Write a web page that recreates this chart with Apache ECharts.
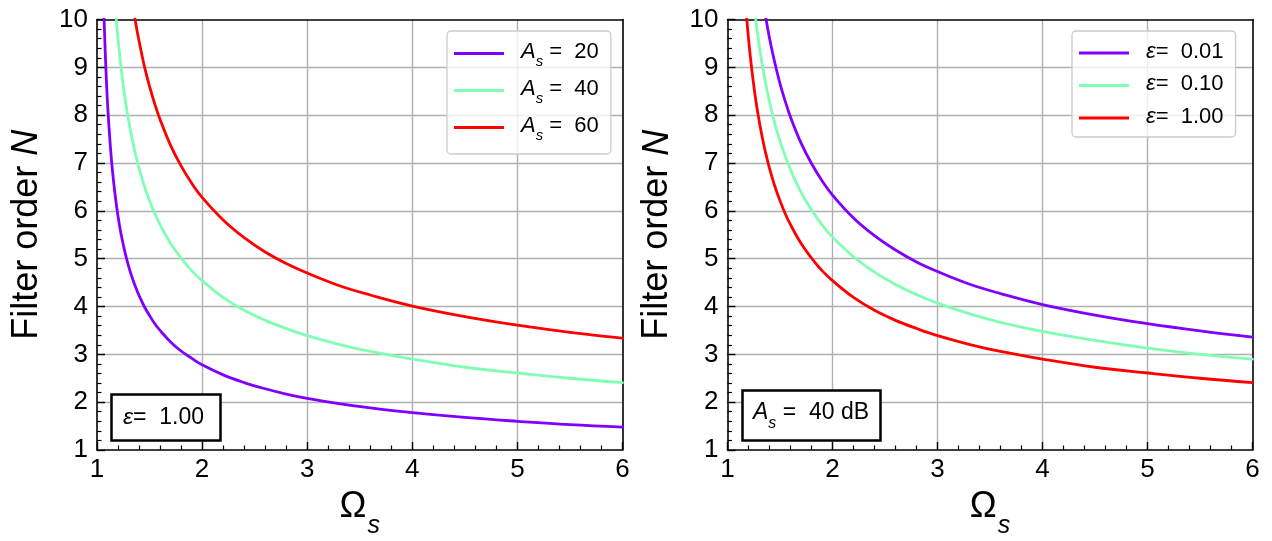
<!DOCTYPE html>
<html><head><meta charset="utf-8">
<script src="https://cdn.jsdelivr.net/npm/echarts@6/dist/echarts.min.js"></script>
<style>html,body{margin:0;padding:0;background:#fff}#c{width:1272px;height:541px}</style>
</head><body><div id="c"></div>
<script>
// ---- data ----
const omega = [1.05,1.06,1.07,1.08,1.09,1.10,1.12,1.14,1.16,1.18,1.20,1.22,1.25,1.28,1.31,1.34,1.37,1.40,1.45,1.50,1.55,1.60,1.70,1.80,1.90,2.0,2.2,2.4,2.6,2.8,3.0,3.3,3.6,4.0,4.5,5.0,5.5,6.0];
const nAs20 = [11.64,10.64,9.85,9.23,8.70,8.26,7.56,7.01,6.57,6.20,5.89,5.62,5.29,5.01,4.77,4.57,4.39,4.23,4.00,3.81,3.64,3.50,3.26,3.07,2.92,2.78,2.57,2.41,2.28,2.17,2.08,1.97,1.88,1.78,1.68,1.60,1.53,1.48];
const nAs40 = [18.97,17.33,16.06,15.03,14.19,13.47,12.31,11.42,10.70,10.10,9.60,9.17,8.62,8.16,7.78,7.44,7.15,6.89,6.52,6.21,5.94,5.71,5.32,5.01,4.75,4.54,4.19,3.92,3.71,3.54,3.39,3.21,3.06,2.90,2.73,2.61,2.50,2.41];
const nAs60 = [26.28,24.01,22.25,20.83,19.65,18.66,17.06,15.82,14.82,14.00,13.30,12.70,11.94,11.31,10.77,10.31,9.90,9.55,9.03,8.60,8.23,7.91,7.37,6.94,6.58,6.28,5.81,5.44,5.14,4.90,4.70,4.44,4.24,4.01,3.79,3.61,3.46,3.34];
const nEps001 = [26.46,24.18,22.40,20.97,19.79,18.79,17.18,15.93,14.93,14.09,13.39,12.79,12.02,11.39,10.85,10.38,9.97,9.61,9.10,8.66,8.29,7.96,7.42,6.99,6.63,6.33,5.85,5.48,5.18,4.93,4.73,4.47,4.27,4.04,3.82,3.64,3.49,3.36];
const nEps010 = [22.79,20.82,19.30,18.06,17.04,16.18,14.80,13.72,12.85,12.14,11.53,11.01,10.36,9.81,9.34,8.94,8.59,8.28,7.83,7.46,7.14,6.86,6.39,6.02,5.71,5.45,5.04,4.72,4.46,4.25,4.07,3.85,3.67,3.48,3.29,3.13,3.00,2.90];
const nEps100 = [18.97,17.33,16.06,15.03,14.19,13.47,12.31,11.42,10.70,10.10,9.60,9.17,8.62,8.16,7.78,7.44,7.15,6.89,6.52,6.21,5.94,5.71,5.32,5.01,4.75,4.54,4.19,3.92,3.71,3.54,3.39,3.21,3.06,2.90,2.73,2.61,2.50,2.41];
const asLabels = ['20','40','60'];
const epsLabels = ['0.01','0.10','1.00'];
const xRange = [1, 6];
const yRange = [1, 10];
const leftNote = '1.00';
const rightNote = '40 dB';
const colors = ['#8000ff', '#80ffb4', '#ff0000'];

const FONT = '"Liberation Sans", Arial, sans-serif';
const chart = echarts.init(document.getElementById('c'), null, {renderer: 'canvas'});

function mk(name, ys, color, xi, yi) {
  return {
    name, type: 'line', xAxisIndex: xi, yAxisIndex: yi,
    data: omega.map((x, i) => [x, ys[i]]),
    symbol: 'none', showSymbol: false, smooth: 0.4,
    color: color, lineStyle: {width: 2.8, color: color, join: 'round', cap: 'round'}, itemStyle: {color: color},
    clip: true, z: 3, emphasis: {disabled: true}
  };
}

const grids = [
  {left: 97, top: 19.5, width: 525.5, height: 430.5, containLabel: false, outerBoundsMode: 'none'},
  {left: 727.5, top: 19.5, width: 525, height: 430.5, containLabel: false, outerBoundsMode: 'none'}
];

function mainX(gi) {
  return {
    type: 'value', gridIndex: gi, min: xRange[0], max: xRange[1], interval: 1, position: 'bottom',
    axisLine: {show: true, onZero: false, lineStyle: {color: '#000', width: 1.6}},
    axisTick: {show: true, inside: true, length: 8, lineStyle: {color: '#000', width: 1.4}},
    minorTick: {show: true, splitNumber: 5, length: 4.5, lineStyle: {color: '#000', width: 1.2}},
    axisLabel: {show: true, color: '#000', fontSize: 26, fontFamily: FONT, margin: 7},
    splitLine: {show: true, showMinLine: false, showMaxLine: false, lineStyle: {color: '#b0b0b0', width: 1.4}},
    name: '{o|Ω}{s|s}', nameLocation: 'middle', nameGap: 39,
    nameTextStyle: {color: '#000', fontFamily: FONT, rich: {
      o: {fontSize: 36, fontFamily: FONT, lineHeight: 40, verticalAlign: 'top', color: '#000'},
      s: {fontSize: 25, fontFamily: FONT, fontStyle: 'italic', lineHeight: 25, padding: [25, 0, 0, 1], verticalAlign: 'top', color: '#000'}
    }}
  };
}
function frameX(gi) {
  return {
    type: 'value', gridIndex: gi, min: xRange[0], max: xRange[1], interval: 1, position: 'top',
    axisLine: {show: true, onZero: false, lineStyle: {color: '#000', width: 1.6}},
    axisTick: {show: false}, axisLabel: {show: false}, splitLine: {show: false}
  };
}
function mainY(gi) {
  return {
    type: 'value', gridIndex: gi, min: yRange[0], max: yRange[1], interval: 1, position: 'left',
    axisLine: {show: true, onZero: false, lineStyle: {color: '#000', width: 1.6}},
    axisTick: {show: true, inside: true, length: 8, lineStyle: {color: '#000', width: 1.4}},
    minorTick: {show: true, splitNumber: 5, length: 4.5, lineStyle: {color: '#000', width: 1.2}},
    axisLabel: {show: true, color: '#000', fontSize: 26, fontFamily: FONT, margin: 9},
    splitLine: {show: true, showMinLine: false, showMaxLine: false, lineStyle: {color: '#b0b0b0', width: 1.4}},
    name: 'Filter order {n|N}', nameLocation: 'middle', nameGap: 50,
    nameTextStyle: {color: '#000', fontSize: 36, fontFamily: FONT, lineHeight: 40, rich: {
      n: {fontSize: 36, fontFamily: FONT, fontStyle: 'italic', lineHeight: 40, color: '#000'}
    }}
  };
}
function frameY(gi) {
  return {
    type: 'value', gridIndex: gi, min: yRange[0], max: yRange[1], interval: 1, position: 'right',
    axisLine: {show: true, onZero: false, lineStyle: {color: '#000', width: 1.6}},
    axisTick: {show: false}, axisLabel: {show: false}, splitLine: {show: false}
  };
}

const asNames = asLabels.map(v => 'As=' + v);
const epsNames = epsLabels.map(v => 'eps=' + v);
const labelMap = {};
asLabels.forEach((v, i) => { labelMap[asNames[i]] = '{a|A}{s|s}{t| =  ' + v + '}'; });
epsLabels.forEach((v, i) => { labelMap[epsNames[i]] = '{e|ε}{t|=  ' + v + '}'; });

const legendBase = {
  orient: 'vertical', itemWidth: 50, itemHeight: 3, icon: 'rect', selectedMode: false,
  backgroundColor: 'rgba(255,255,255,0.8)', borderColor: '#cccccc', borderWidth: 1.3, borderRadius: 4,
  formatter: n => labelMap[n], z: 10
};

const option = {
  animation: false,
  textStyle: {fontFamily: FONT},
  grid: grids,
  xAxis: [mainX(0), frameX(0), mainX(1), frameX(1)],
  yAxis: [mainY(0), frameY(0), mainY(1), frameY(1)],
  legend: [
    Object.assign({}, legendBase, {
      data: asNames, left: 447, top: 31, itemGap: 9, padding: [10, 12, 11, 7],
      textStyle: {color: '#000', fontFamily: FONT, rich: {
        a: {fontSize: 22, fontFamily: FONT, fontStyle: 'italic', lineHeight: 25, verticalAlign: 'top', padding: [0, 0, 0, 12], color: '#000'},
        s: {fontSize: 15, fontFamily: FONT, fontStyle: 'italic', lineHeight: 15, verticalAlign: 'top', padding: [13, 0, 0, 0], color: '#000'},
        t: {fontSize: 22, fontFamily: FONT, lineHeight: 25, verticalAlign: 'top', color: '#000'}
      }}
    }),
    Object.assign({}, legendBase, {
      data: epsNames, left: 1072, top: 31, itemGap: 10.5, padding: [9.5, 12, 9.5, 7],
      textStyle: {color: '#000', fontFamily: FONT, rich: {
        e: {fontSize: 22, fontFamily: FONT, fontStyle: 'italic', lineHeight: 25, verticalAlign: 'top', padding: [0, 0, 0, 12], color: '#000'},
        t: {fontSize: 22, fontFamily: FONT, lineHeight: 25, verticalAlign: 'top', color: '#000'}
      }}
    })
  ],
  title: [
    {
      text: '{e|ε}{t|=  ' + leftNote + '}', left: 111, top: 394,
      borderColor: '#000', borderWidth: 2.5, backgroundColor: '#fff', padding: [12, 17, 12, 12],
      textStyle: {fontWeight: 'normal', rich: {
        e: {fontSize: 23, fontFamily: FONT, fontWeight: 'normal', fontStyle: 'italic', lineHeight: 26, verticalAlign: 'top', color: '#000'},
        t: {fontSize: 23, fontFamily: FONT, fontWeight: 'normal', lineHeight: 26, verticalAlign: 'top', color: '#000'}
      }}
    },
    {
      text: '{a|A}{s|s}{t| =  ' + rightNote + '}', left: 742, top: 390,
      borderColor: '#000', borderWidth: 2.5, backgroundColor: '#fff', padding: [11, 12, 9.4, 11],
      textStyle: {fontWeight: 'normal', rich: {
        a: {fontSize: 23, fontFamily: FONT, fontWeight: 'normal', fontStyle: 'italic', lineHeight: 27, verticalAlign: 'top', color: '#000'},
        s: {fontSize: 16, fontFamily: FONT, fontWeight: 'normal', fontStyle: 'italic', lineHeight: 16, verticalAlign: 'top', padding: [14.6, 0, 0, 0], color: '#000'},
        t: {fontSize: 23, fontFamily: FONT, fontWeight: 'normal', lineHeight: 27, verticalAlign: 'top', color: '#000'}
      }}
    }
  ],
  series: [
    mk(asNames[0], nAs20, colors[0], 0, 0),
    mk(asNames[1], nAs40, colors[1], 0, 0),
    mk(asNames[2], nAs60, colors[2], 0, 0),
    mk(epsNames[0], nEps001, colors[0], 2, 2),
    mk(epsNames[1], nEps010, colors[1], 2, 2),
    mk(epsNames[2], nEps100, colors[2], 2, 2)
  ]
};
chart.setOption(option);
</script>
</body></html>
